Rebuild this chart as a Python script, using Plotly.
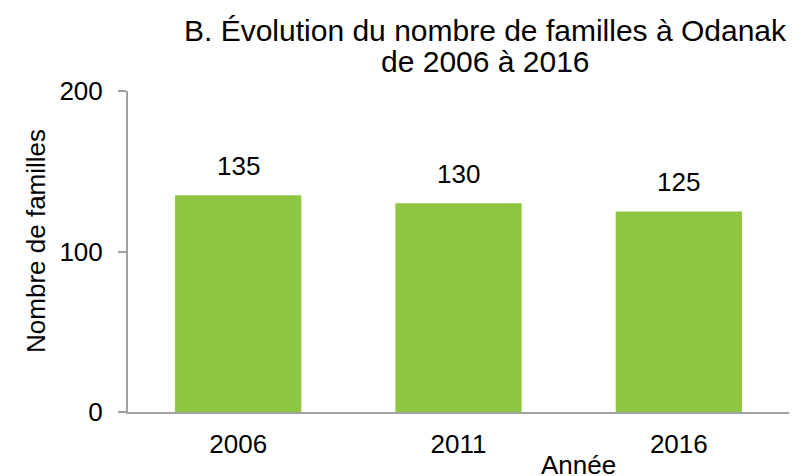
import plotly.graph_objects as go

years = ["2006", "2011", "2016"]
families = [135, 130, 125]
y_ticks = [0, 100, 200]
title_lines = ["B. Évolution du nombre de familles à Odanak", "de 2006 à 2016"]
x_title = "Année"
y_title = "Nombre de familles"

FONT = "Liberation Sans, Arial, sans-serif"

fig = go.Figure()
fig.add_trace(go.Bar(
    x=years, y=families,
    marker=dict(color="#8DC641", line=dict(width=0)),
    width=0.573, hoverinfo="skip",
))

annotations = []
# data labels placed at bar tops via axis coordinates (category index)
for i, v in enumerate(families):
    annotations.append(dict(x=i, y=v, xref="x", yref="y", text=str(v),
                            showarrow=False, yanchor="bottom", yshift=12,
                            font=dict(size=26, color="black", family=FONT)))
# title, two lines
annotations.append(dict(text=title_lines[0], xref="paper", yref="paper",
                        x=0.5416, y=1, yshift=61, xanchor="center", yanchor="middle",
                        showarrow=False, font=dict(size=30, color="black", family=FONT)))
annotations.append(dict(text=title_lines[1], xref="paper", yref="paper",
                        x=0.5416, y=1, yshift=30, xanchor="center", yanchor="middle",
                        showarrow=False, font=dict(size=30, color="black", family=FONT)))
# axis titles
annotations.append(dict(text=x_title, xref="paper", yref="paper", x=0.681, y=0,
                        yshift=-53, xanchor="center", yanchor="middle", showarrow=False,
                        font=dict(size=26, color="black", family=FONT)))
annotations.append(dict(text=y_title, xref="paper", yref="paper", x=0, y=0.533,
                        xshift=-92, xanchor="center", yanchor="middle", textangle=-90,
                        showarrow=False, font=dict(size=26, color="black", family=FONT)))

fig.update_layout(
    width=793, height=468,
    margin=dict(l=120, r=12, t=83, b=64),
    paper_bgcolor="white", plot_bgcolor="white",
    font=dict(family=FONT, color="black", size=26),
    showlegend=False,
    xaxis=dict(type="category", range=[-0.5, len(years) - 0.5], showline=True,
               linecolor="#A0A0A0", linewidth=2, ticks="",
               tickfont=dict(size=26), showgrid=False, ticklabelstandoff=8),
    yaxis=dict(range=[0, 200], tickvals=y_ticks, showline=True, linecolor="#A0A0A0",
               linewidth=2, ticks="outside", ticklen=8, tickwidth=2, tickcolor="#A0A0A0",
               showgrid=False, zeroline=False, tickfont=dict(size=26),
               ticklabelstandoff=10),
    annotations=annotations,
)

fig.write_html("out.html")
